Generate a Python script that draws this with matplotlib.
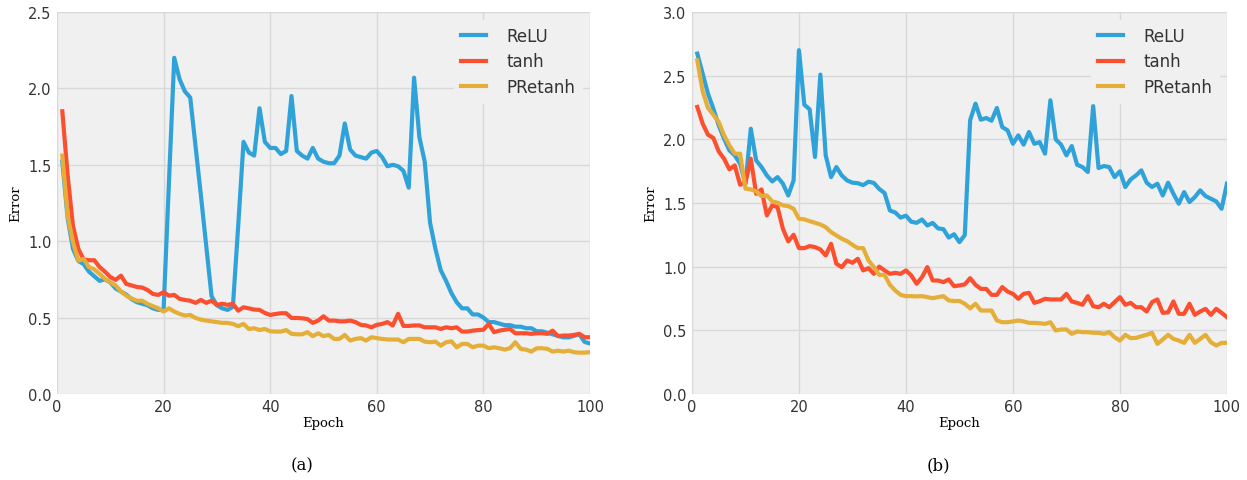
import numpy as np
import matplotlib
matplotlib.use("Agg")
import matplotlib.pyplot as plt

epochs = np.arange(1, 101)

# panel (a)
relu_a = [1.52, 1.15, 0.95, 0.87, 0.85, 0.80, 0.77, 0.74, 0.75, 0.73,
          0.69, 0.67, 0.65, 0.62, 0.60, 0.59, 0.58, 0.56, 0.55, 0.55,
          1.38, 2.20, 2.06, 1.98, 1.94, 1.62, 1.30, 0.97, 0.64, 0.58,
          0.56, 0.55, 0.57, 1.10, 1.65, 1.58, 1.56, 1.87, 1.65, 1.61,
          1.61, 1.57, 1.59, 1.95, 1.59, 1.56, 1.54, 1.61, 1.54, 1.52,
          1.51, 1.51, 1.56, 1.77, 1.60, 1.56, 1.55, 1.54, 1.58, 1.59,
          1.55, 1.49, 1.50, 1.49, 1.46, 1.35, 2.07, 1.68, 1.52, 1.12,
          0.95, 0.81, 0.74, 0.66, 0.60, 0.56, 0.56, 0.52, 0.52, 0.50,
          0.47, 0.47, 0.46, 0.45, 0.45, 0.44, 0.44, 0.43, 0.43, 0.41,
          0.41, 0.40, 0.39, 0.38, 0.37, 0.37, 0.38, 0.39, 0.34, 0.33]
tanh_a = [1.85, 1.43, 1.10, 0.95, 0.88, 0.875, 0.875, 0.83, 0.80, 0.765,
          0.746, 0.774, 0.72, 0.71, 0.70, 0.696, 0.68, 0.654, 0.648, 0.666,
          0.643, 0.648, 0.622, 0.615, 0.61, 0.596, 0.615, 0.596, 0.61, 0.583,
          0.59, 0.583, 0.59, 0.545, 0.567, 0.56, 0.552, 0.55, 0.53, 0.517,
          0.523, 0.528, 0.528, 0.497, 0.497, 0.495, 0.49, 0.465, 0.48, 0.508,
          0.48, 0.48, 0.475, 0.475, 0.48, 0.47, 0.452, 0.448, 0.436, 0.452,
          0.458, 0.47, 0.448, 0.524, 0.445, 0.445, 0.448, 0.448, 0.436, 0.436,
          0.436, 0.425, 0.436, 0.43, 0.436, 0.408, 0.408, 0.414, 0.418, 0.42,
          0.458, 0.404, 0.414, 0.42, 0.425, 0.397, 0.397, 0.397, 0.393, 0.397,
          0.397, 0.393, 0.414, 0.378, 0.382, 0.382, 0.386, 0.393, 0.371, 0.371]
pretanh_a = [1.56, 1.167, 0.993, 0.872, 0.883, 0.83, 0.815, 0.785, 0.753, 0.73,
             0.71, 0.67, 0.643, 0.625, 0.61, 0.61, 0.589, 0.574, 0.56, 0.539,
             0.56, 0.539, 0.524, 0.513, 0.517, 0.497, 0.486, 0.48, 0.475, 0.47,
             0.465, 0.465, 0.458, 0.443, 0.458, 0.425, 0.43, 0.418, 0.425, 0.41,
             0.408, 0.408, 0.418, 0.393, 0.39, 0.39, 0.404, 0.378, 0.397, 0.378,
             0.386, 0.36, 0.36, 0.386, 0.349, 0.36, 0.365, 0.349, 0.371, 0.365,
             0.36, 0.356, 0.356, 0.356, 0.338, 0.36, 0.36, 0.36, 0.342, 0.338,
             0.342, 0.316, 0.338, 0.344, 0.305, 0.327, 0.327, 0.305, 0.316, 0.316,
             0.299, 0.305, 0.299, 0.29, 0.299, 0.338, 0.295, 0.29, 0.277, 0.299,
             0.299, 0.295, 0.277, 0.283, 0.277, 0.283, 0.273, 0.27, 0.27, 0.273]

# panel (b)
relu_b = [2.673, 2.516, 2.358, 2.24, 2.11, 2.005, 1.913, 1.874, 1.808, 1.65,
          2.083, 1.834, 1.782, 1.716, 1.669, 1.703, 1.651, 1.559, 1.677, 2.70,
          2.272, 2.235, 1.861, 2.508, 1.874, 1.703, 1.782, 1.716, 1.677, 1.659,
          1.655, 1.64, 1.667, 1.657, 1.61, 1.578, 1.441, 1.425, 1.385, 1.40,
          1.352, 1.344, 1.37, 1.323, 1.343, 1.30, 1.294, 1.228, 1.254, 1.192,
          1.248, 2.15, 2.28, 2.154, 2.167, 2.146, 2.246, 2.096, 2.07, 1.965,
          2.031, 1.958, 2.057, 1.965, 1.978, 1.887, 2.306, 1.999, 1.958, 1.874,
          1.947, 1.80, 1.782, 1.743, 2.262, 1.774, 1.79, 1.782, 1.703, 1.748,
          1.625, 1.685, 1.716, 1.756, 1.659, 1.625, 1.651, 1.559, 1.659, 1.572,
          1.494, 1.585, 1.507, 1.546, 1.599, 1.554, 1.533, 1.512, 1.454, 1.651]
tanh_b = [2.254, 2.123, 2.036, 2.01, 1.905, 1.847, 1.764, 1.795, 1.643, 1.659,
          1.847, 1.572, 1.606, 1.402, 1.481, 1.467, 1.297, 1.198, 1.25, 1.145,
          1.145, 1.161, 1.153, 1.135, 1.088, 1.179, 1.022, 0.996, 1.048, 1.03,
          1.061, 0.97, 0.988, 0.943, 1.0, 0.97, 0.943, 0.951, 0.943, 0.97,
          0.93, 0.865, 0.917, 0.996, 0.891, 0.891, 0.878, 0.899, 0.846, 0.852,
          0.86, 0.909, 0.857, 0.825, 0.825, 0.778, 0.778, 0.839, 0.804, 0.786,
          0.747, 0.786, 0.794, 0.715, 0.728, 0.747, 0.742, 0.742, 0.742, 0.786,
          0.726, 0.715, 0.70, 0.768, 0.689, 0.681, 0.708, 0.681, 0.721, 0.76,
          0.70, 0.715, 0.681, 0.681, 0.647, 0.721, 0.742, 0.637, 0.64, 0.726,
          0.629, 0.629, 0.708, 0.621, 0.647, 0.668, 0.621, 0.668, 0.637, 0.603]
pretanh_b = [2.62, 2.377, 2.246, 2.193, 2.136, 2.031, 1.952, 1.887, 1.887, 1.612,
             1.606, 1.591, 1.554, 1.559, 1.512, 1.502, 1.481, 1.475, 1.454, 1.376,
             1.371, 1.357, 1.344, 1.331, 1.31, 1.271, 1.245, 1.219, 1.20, 1.171,
             1.145, 1.145, 1.048, 0.996, 0.935, 0.935, 0.857, 0.812, 0.778, 0.768,
             0.768, 0.766, 0.768, 0.76, 0.752, 0.76, 0.768, 0.734, 0.73, 0.73,
             0.708, 0.672, 0.708, 0.655, 0.655, 0.655, 0.577, 0.563, 0.563, 0.569,
             0.577, 0.569, 0.558, 0.558, 0.555, 0.55, 0.563, 0.498, 0.506, 0.506,
             0.472, 0.49, 0.485, 0.485, 0.48, 0.48, 0.472, 0.485, 0.445, 0.419,
             0.464, 0.438, 0.44, 0.453, 0.464, 0.48, 0.393, 0.427, 0.464, 0.432,
             0.419, 0.401, 0.464, 0.401, 0.432, 0.464, 0.406, 0.38, 0.401, 0.401]

labels = ["ReLU", "tanh", "PRetanh"]
colors = ["#30a2da", "#fc4f30", "#e5ae38"]
bg = "#eff0ef"

fig = plt.figure(figsize=(12.47, 4.81), dpi=100)
ax1 = fig.add_axes([0.0457, 0.179, 0.4274, 0.794])
ax2 = fig.add_axes([0.5549, 0.179, 0.429, 0.794])

panels = [
    (ax1, [relu_a, tanh_a, pretanh_a], 2.5, "(a)"),
    (ax2, [relu_b, tanh_b, pretanh_b], 3.0, "(b)"),
]

for ax, series, ymax, tag in panels:
    ax.set_facecolor(bg)
    for vals, lab, col in zip(series, labels, colors):
        ax.plot(epochs, vals, color=col, lw=3, label=lab)
    ax.set_xlim(0, 100)
    ax.set_ylim(0, ymax)
    ax.set_xticks(np.arange(0, 101, 20))
    ax.set_yticks(np.arange(0, ymax + 0.01, 0.5))
    ax.set_yticklabels(["%.1f" % v for v in np.arange(0, ymax + 0.01, 0.5)])
    ax.grid(True, color="#d8d8d8", lw=1.0)
    ax.set_axisbelow(True)
    for s in ax.spines.values():
        s.set_visible(False)
    ax.tick_params(length=0, labelsize=10.5, labelcolor="#333333", pad=4)
    ax.set_xlabel("Epoch", family="serif", fontsize=9.5, labelpad=1)
    ax.set_ylabel("Error", family="serif", fontsize=9.5, labelpad=4)
    leg = ax.legend(loc="upper right", fontsize=12, handlelength=1.5,
                    handletextpad=1.2, labelspacing=0.45, borderaxespad=0.5,
                    frameon=True, fancybox=False)
    leg.get_frame().set_facecolor(bg)
    leg.get_frame().set_edgecolor(bg)
    leg.get_frame().set_alpha(1)
    for t in leg.get_texts():
        t.set_color("#333333")
    ax.text(0.46, -0.185, tag, transform=ax.transAxes, family="serif",
            fontsize=12, ha="center", va="center")

plt.savefig("out.png", dpi=100, facecolor="white")
